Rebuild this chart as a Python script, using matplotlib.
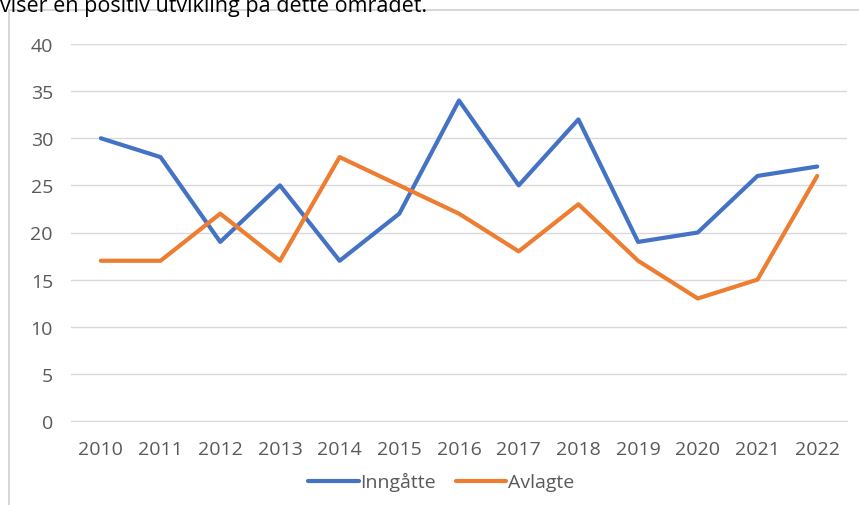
import matplotlib.pyplot as plt
from matplotlib.patches import Rectangle

years = ['2010', '2011', '2012', '2013', '2014', '2015', '2016',
         '2017', '2018', '2019', '2020', '2021', '2022']
inngatte = [30, 28, 19, 25, 17, 22, 34, 25, 32, 19, 20, 26, 27]
avlagte = [17, 17, 22, 17, 28, 25, 22, 18, 23, 17, 13, 15, 26]
yticks = [0, 5, 10, 15, 20, 25, 30, 35, 40]

plt.rcParams['font.family'] = ['Open Sans', 'DejaVu Sans']

fig = plt.figure(figsize=(8.59, 5.06), dpi=100)

# chart frame (only top and left edge visible in the crop)
fig.patches.append(Rectangle((9 / 859, -0.1), 1.2, 1 - 11 / 506 + 0.1,
                             transform=fig.transFigure, fill=False,
                             ec='#d0d0d0', lw=1.2))

# cut-off text above the chart
fig.text(0.0, 1 - 12 / 506, 'viser en positiv utvikling på dette området.',
         fontsize=15.5, color='black', va='baseline', ha='left')

ax = fig.add_axes([71 / 859, 1 - 422 / 506, 776 / 859, 377 / 506])
x = list(range(len(years)))
ax.plot(x, inngatte, color='#4472C4', lw=3.0, solid_capstyle='round', label='Inngåtte')
ax.plot(x, avlagte, color='#ED7D31', lw=3.0, solid_capstyle='round', label='Avlagte')

ax.set_xlim(-0.5, len(years) - 0.5)
ax.set_ylim(0, 40)
ax.set_xticks(x)
ax.set_xticklabels(years)
ax.set_yticks(yticks)
ax.grid(axis='y', color='#d9d9d9', lw=1)
ax.set_axisbelow(True)
for s in ax.spines.values():
    s.set_visible(False)
ax.spines['bottom'].set_visible(True)
ax.spines['bottom'].set_color('#d9d9d9')
ax.tick_params(length=0, labelsize=14, labelcolor='#595959')
ax.tick_params(axis='x', pad=14)
ax.tick_params(axis='y', pad=13)

ax.legend(loc='upper center', bbox_to_anchor=(0.477, -0.1), ncol=2,
          frameon=False, fontsize=14, labelcolor='#595959',
          handlelength=2.6, handletextpad=0.1, columnspacing=1.0,
          borderpad=0.2)

fig.savefig('out.png', dpi=100)
